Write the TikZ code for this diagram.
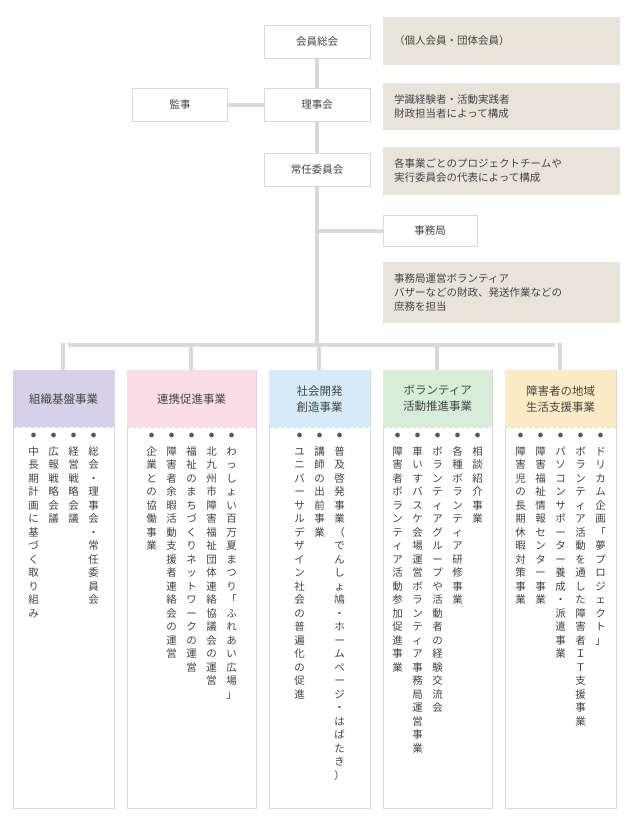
\documentclass[tikz,border=0pt]{standalone}
\usepackage{fontspec}
\setmainfont{Noto Sans CJK JP}[RawFeature=+vert]
\newfontfamily\hfont{Noto Sans CJK JP}
\definecolor{txt}{HTML}{444444}
\definecolor{line}{HTML}{D9D9D9}
\definecolor{note}{HTML}{E8E4DA}
\definecolor{cpurple}{HTML}{D6D1E8}
\definecolor{cpink}{HTML}{FBDDE8}
\definecolor{cblue}{HTML}{D5ECF8}
\definecolor{cgreen}{HTML}{D8EDD8}
\definecolor{corange}{HTML}{FDEBC6}
% one character per line
\def\vtend{\vtend}
\def\vtstep#1{\ifx\vtend#1\else\hbox to 12pt{\hss\vrule height 10.5pt depth 3pt width 0pt #1\hss}\expandafter\vtstep\fi}
\newcommand\vitem[1]{\vtop{\offinterlineskip\hbox to 12pt{\hss\textcolor{txt!90}{\large$\bullet$}\hss}\kern6pt\vtstep#1\vtend}}
\begin{document}
\begin{tikzpicture}
[x=1pt, y=-1pt, font=\hfont\fontsize{10.5}{14}\selectfont, text=txt,
unit/.style={rectangle, draw=line, fill=white, line width=1pt, minimum width=106pt, minimum height=33pt},
memo/.style={rectangle, fill=note, anchor=west, align=left, inner sep=0pt, text width=215pt, minimum width=237pt},
conn/.style={draw=line, line width=4pt},
head/.style={rectangle, anchor=north west, inner sep=0pt, align=center, font=\hfont\fontsize{11.5}{16}\selectfont}]

\useasboundingbox (0,0) rectangle (630,827);

% trunk
\draw[conn] (317,42) -- (317,345);
\draw[conn] (68,345) -- (555,345);
\foreach \c in {63,191,319,437,560} {
  \draw[conn] (\c,343) -- (\c,372);
}

\node[unit] (general) at (317,42) {会員総会};
\node[unit] (board) at (317,105) {理事会};
\node[unit, minimum width=95pt] (audit) at (180,105) {監事};
\node[unit] (standing) at (317,170) {常任委員会};
\node[unit, minimum width=94pt, minimum height=31pt] (office) at (430,231) {事務局};
\draw[conn] (audit) -- (board);
\draw[conn] (317,231) -- (office);

\node[memo, minimum height=48pt] (memo1) at (383,41) {（個人会員・団体会員）};
\node[memo, minimum height=47pt] (memo2) at (383,106.5) {学識経験者・活動実践者\\財政担当者によって構成};
\node[memo, minimum height=48pt] (memo3) at (383,171) {各事業ごとのプロジェクトチームや\\実行委員会の代表によって構成};
\node[memo, minimum height=61pt] (memo4) at (383,292.5) {事務局運営ボランティア\\バザーなどの財政、発送作業などの\\庶務を担当};

% columns: x, width, colour, name, title
\foreach \x/\w/\col/\n/\t in {13/101/cpurple/base/組織基盤事業,
  127/129/cpink/link/連携促進事業,
  269/101/cblue/social/{社会開発\\創造事業},
  383/109/cgreen/volunteer/{ボランティア\\活動推進事業},
  505/111/corange/life/{障害者の地域\\生活支援事業}} {
  \draw[line, fill=white] (\x,370) rectangle (\x+\w,808);
  \fill[\col] (\x,370) rectangle (\x+\w,427);
  \draw[line, dashed] (\x,427) -- (\x+\w,427);
  \node[head, text width=\w pt, minimum height=57pt] (\n) at (\x,370) {\t};
}

\node[anchor=north] (baseitems) at (63.5,430) {\hbox{\vitem{中長期計画に基づく取り組み}\kern8pt\vitem{広報戦略会議}\kern8pt\vitem{経営戦略会議}\kern8pt\vitem{総会・理事会・常任委員会}}};
\node[anchor=north] (linkitems) at (191.5,430) {\hbox{\vitem{企業との協働事業}\kern8pt\vitem{障害者余暇活動支援者連絡会の運営}\kern8pt\vitem{福祉のまちづくりネットワークの運営}\kern8pt\vitem{北九州市障害福祉団体連絡協議会の運営}\kern8pt\vitem{わっしょい百万夏まつり「ふれあい広場」}}};
\node[anchor=north] (socialitems) at (319.5,430) {\hbox{\vitem{ユニバーサルデザイン社会の普遍化の促進}\kern8pt\vitem{講師の出前事業}\kern8pt\vitem{普及啓発事業（でんしょ鳩・ホームページ・はばたき）}}};
\node[anchor=north] (volunteeritems) at (437.5,430) {\hbox{\vitem{障害者ボランティア活動参加促進事業}\kern8pt\vitem{車いすバスケ会場運営ボランティア事務局運営事業}\kern8pt\vitem{ボランティアグループや活動者の経験交流会}\kern8pt\vitem{各種ボランティア研修事業}\kern8pt\vitem{相談紹介事業}}};
\node[anchor=north] (lifeitems) at (560.5,430) {\hbox{\vitem{障害児の長期休暇対策事業}\kern8pt\vitem{障害福祉情報センター事業}\kern8pt\vitem{パソコンサポーター養成・派遣事業}\kern8pt\vitem{ボランティア活動を通した障害者ＩＴ支援事業}\kern8pt\vitem{ドリカム企画「夢プロジェクト」}}};
\end{tikzpicture}
\end{document}
